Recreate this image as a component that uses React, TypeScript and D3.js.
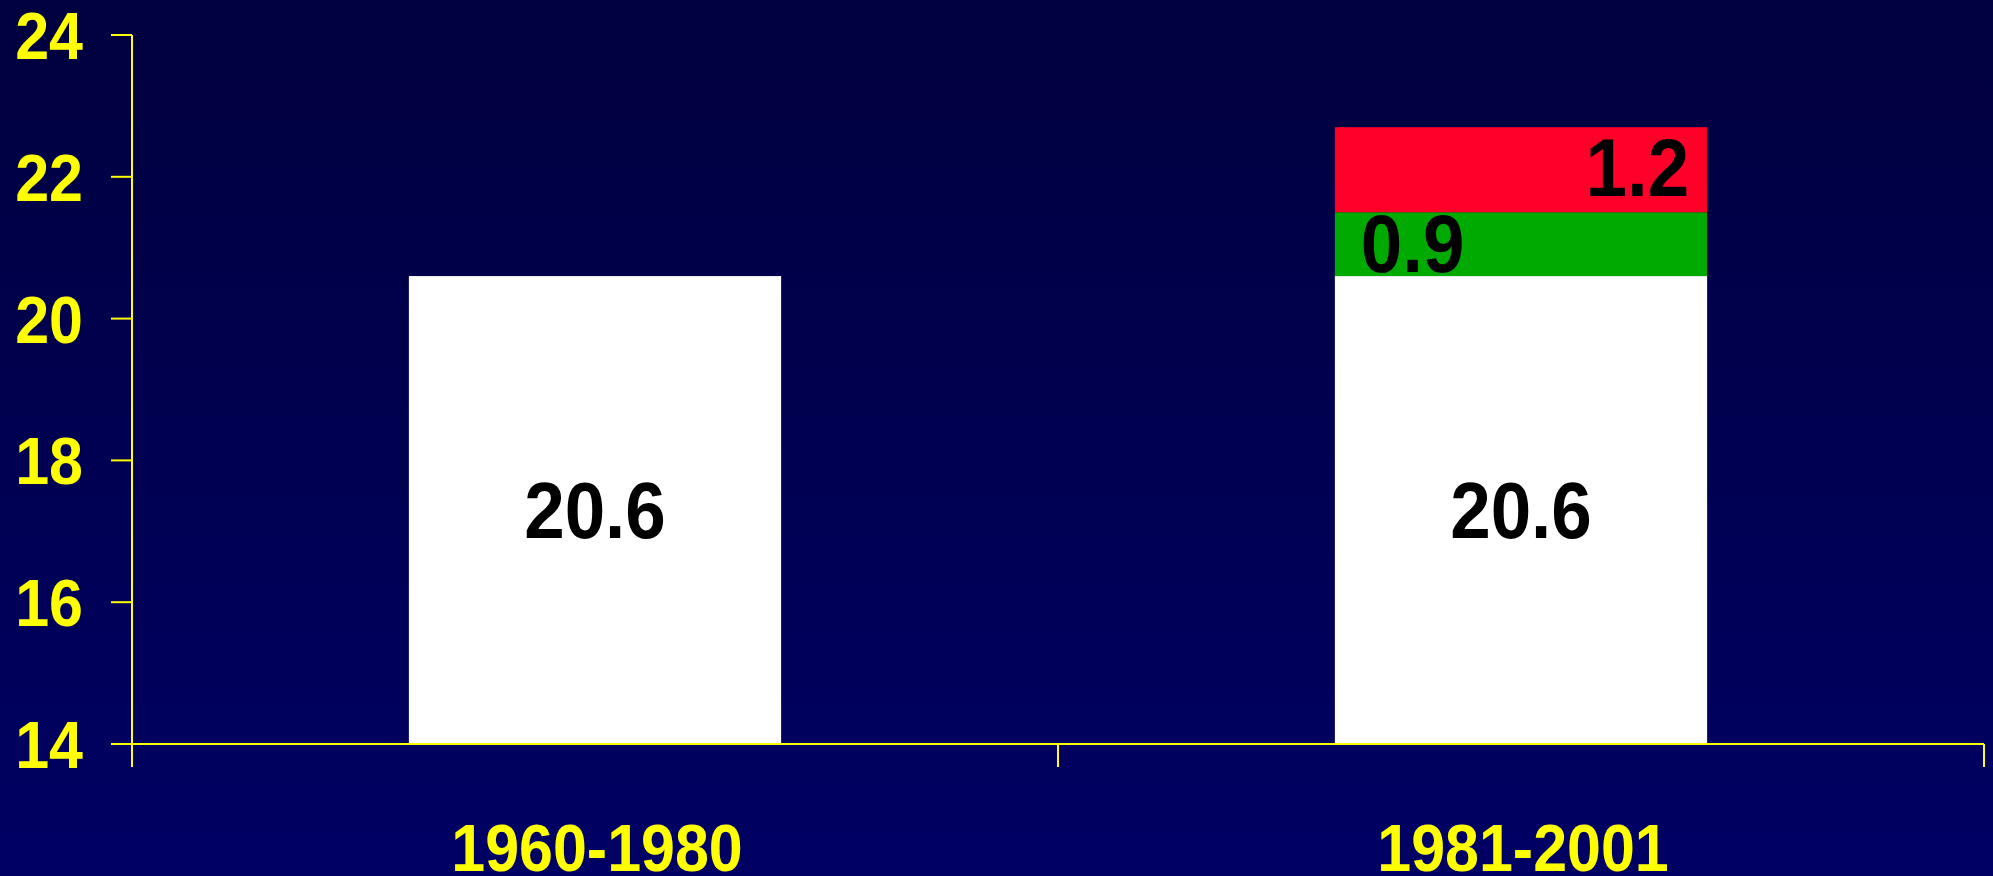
import React from "react";
import * as d3 from "d3";

const categories = ["1960-1980", "1981-2001"];
const baseValues = [20.6, 20.6];
const greenValues = [0, 0.9];
const redValues = [0, 1.2];
const yTicks = [14, 16, 18, 20, 22, 24];

const W = 1993;
const H = 876;
const font = "'Liberation Sans', Arial, Helvetica, sans-serif";
const SX = 0.91;

function T(props: { x: number; y: number; anchor: string; size: number; fill: string; children: any }) {
  return (
    <g transform={`translate(${props.x},${props.y}) scale(${SX},1)`}>
      <text
        x={0}
        y={0}
        textAnchor={props.anchor as any}
        fontFamily={font}
        fontWeight="bold"
        fontSize={props.size}
        fill={props.fill}
      >
        {props.children}
      </text>
    </g>
  );
}

export default function App() {
  const y = d3.scaleLinear().domain([14, 24]).range([744, 35]);
  const x = d3
    .scaleBand<string>()
    .domain(categories)
    .range([132, 1984])
    .paddingInner(0.598)
    .paddingOuter(0.299);
  const band = d3.scaleBand<string>().domain(categories).range([132, 1984]).padding(0);

  const rows = categories.map((c, i) => ({
    cat: c,
    base: baseValues[i],
    green: greenValues[i],
    red: redValues[i],
  }));
  const keys = ["base", "green", "red"];
  const colors: Record<string, string> = { base: "#ffffff", green: "#00aa00", red: "#ff0028" };
  const stack = d3.stack<any>().keys(keys)(rows);

  const bw = x.bandwidth();

  return (
    <div style={{ position: "fixed", left: 0, top: 0 }}>
      <svg width={W} height={H} style={{ display: "block" }}>
        <defs>
          <linearGradient id="bg" x1="0" y1="0" x2="0" y2="1">
            <stop offset="0" stopColor="#00003e" />
            <stop offset="1" stopColor="#000064" />
          </linearGradient>
        </defs>
        <rect x={0} y={0} width={W} height={H} fill="url(#bg)" />

        {stack.map((layer) =>
          layer.map((d, i) => {
            const v0 = Math.max(d[0], 14);
            const v1 = d[1];
            if (v1 - d[0] <= 0) return null;
            const cat = categories[i];
            return (
              <rect
                key={layer.key + i}
                x={x(cat)}
                y={y(v1)}
                width={bw}
                height={y(v0) - y(v1)}
                fill={colors[layer.key as string]}
              />
            );
          })
        )}

        {stack.map((layer) =>
          layer.map((d, i) => {
            const val = d[1] - d[0];
            if (val <= 0) return null;
            const cat = categories[i];
            const x0 = x(cat)!;
            const key = "l" + layer.key + i;
            if (layer.key === "base") {
              const mid = (y(Math.max(d[0], 14)) + y(d[1])) / 2;
              return (
                <T key={key} x={x0 + bw / 2} y={mid + 28} anchor="middle" size={80} fill="#000">
                  {val.toFixed(1)}
                </T>
              );
            }
            if (layer.key === "green") {
              return (
                <T key={key} x={x0 + 26} y={y(d[0]) - 4} anchor="start" size={82} fill="#000">
                  {val.toFixed(1)}
                </T>
              );
            }
            return (
              <T key={key} x={x0 + bw - 18} y={y(d[0]) - 16} anchor="end" size={82} fill="#000">
                {val.toFixed(1)}
              </T>
            );
          })
        )}

        {/* y axis */}
        <line x1={132} x2={132} y1={y(24)} y2={767} stroke="#ffff00" strokeWidth={2} />
        {yTicks.map((t) => (
          <g key={t}>
            <line x1={111} x2={132} y1={y(t)} y2={y(t)} stroke="#ffff00" strokeWidth={2} />
            <T x={83} y={y(t) + 24} anchor="end" size={67} fill="#ffff00">
              {t}
            </T>
          </g>
        ))}

        {/* x axis */}
        <line x1={132} x2={1984} y1={y(14)} y2={y(14)} stroke="#ffff00" strokeWidth={2} />
        {[...categories.map((c) => band(c)!), 1984].map((px, i) => (
          <line key={i} x1={px} x2={px} y1={y(14)} y2={767} stroke="#ffff00" strokeWidth={2} />
        ))}
        {categories.map((c) => (
          <T key={c} x={band(c)! + band.bandwidth() / 2 + 2} y={871} anchor="middle" size={67} fill="#ffff00">
            {c}
          </T>
        ))}
      </svg>
    </div>
  );
}
